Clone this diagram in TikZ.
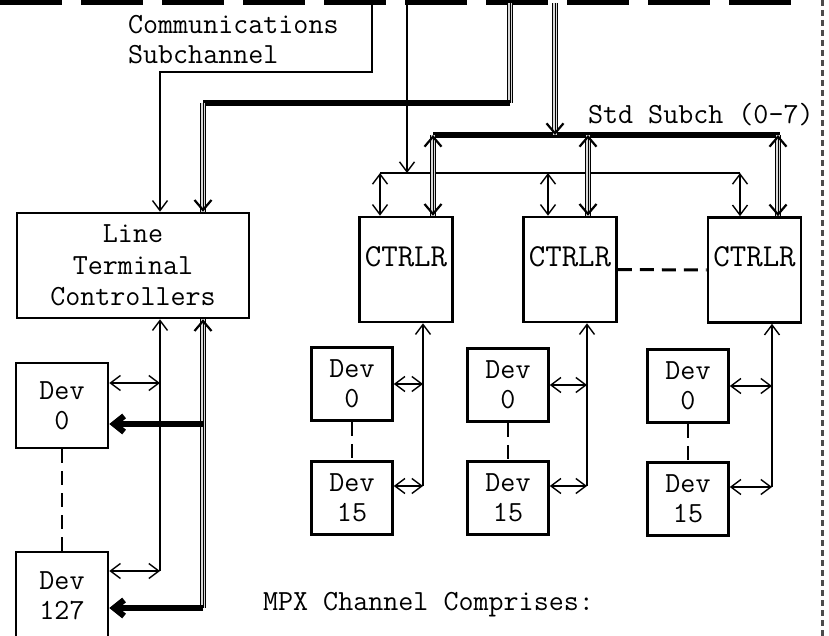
\documentclass[tikz,border=0pt]{standalone}
\usepackage{fontspec}
\usetikzlibrary{arrows.meta}

\begin{document}
\begin{tikzpicture}[x=0.5pt,y=-0.5pt,
  font=\ttfamily\fontsize{14.6}{15}\selectfont,
  >={Straight Barb[length=5pt,width=7.5pt]},
  box/.style={draw,line width=1.3pt,inner sep=0pt,align=center},
  ctrlbox/.style={box,minimum width=46.5pt,minimum height=52.5pt},
  devbox/.style={box,minimum width=40.5pt,minimum height=36.5pt},
  sig/.style={line width=0.7pt},
  vbus/.style={preaction={draw,-,line width=3.4pt,black},
               preaction={draw,-,line width=2pt,gray!30},
               line width=0.5pt,
               >={Straight Barb[length=5pt,width=8.5pt,line width=1.1pt]}},
  hbus/.style={line width=3pt},
  dsh/.style={line width=1pt,dash pattern=on 7pt off 4pt},
  topbus/.style={line width=2.5pt,dash pattern=on 31pt off 9.5pt}]
\useasboundingbox (0,0) rectangle (829,636);
\clip (0,0) rectangle (829,636);

% channel at the top and page edge
\draw[topbus] (0,3) -- (800,3);
\draw[line width=1.5pt,gray!60!black,densely dashed] (822,0) -- (822,636);
\coordinate (tA) at (372,3);
\coordinate (tB) at (407,3);
\coordinate (tC) at (510,3);
\coordinate (tD) at (555,3);

% boxes
\node[box,minimum width=116pt,minimum height=52.5pt,font=\ttfamily\fontsize{14.6}{15.8}\selectfont] (ltc) at (133,265.5) {Line\\Terminal\\Controllers};
\node[ctrlbox] (c1) at (406,269.5) {};
\node[ctrlbox] (c2) at (570,269.5) {};
\node[ctrlbox] (c3) at (754.5,270) {};
\foreach \c in {c1,c2,c3}
  \node[font=\ttfamily\fontsize{16}{18}\selectfont] (\c t) at ([yshift=-20.5pt]\c.north) {CTRLR};

\node[box,minimum width=46pt,minimum height=42.5pt] (dl0) at (62,405.5) {Dev\\0};
\node[box,minimum width=46pt,minimum height=44pt] (dl127) at (62,596) {Dev\\127};
\node[devbox] (d10) at (352,384) {Dev\\0};
\node[devbox] (d115) at (352,498) {Dev\\15};
\node[devbox] (d20) at (508,385) {Dev\\0};
\node[devbox] (d215) at (508,498) {Dev\\15};
\node[devbox] (d30) at (688,386) {Dev\\0};
\node[devbox] (d315) at (688,499) {Dev\\15};

% labels
\node[anchor=west,align=left] (lcomm) at (121,40) {Communications\\Subchannel};
\node[anchor=west] (lstd) at (581,115) {Std Subch (0-7)};
\node[anchor=west] (lmpx) at (256,605) {MPX Channel Comprises:};

% communications subchannel
\coordinate (kA) at (160,72);
\coordinate (kC) at (203,103);
\draw[sig,->] (tA) |- (kA) -- (kA |- ltc.north);
\draw[vbus] (tC) -- (tC |- kC);
\draw[hbus] (tC |- kC) -- (kC);
\draw[vbus,->] (kC) -- (kC |- ltc.north);

% standard subchannels
\coordinate (sL) at (380,173);
\coordinate (s2) at (548,173);
\coordinate (sR) at (740,173);
\draw[sig] (sL) -- (sR);
\draw[sig,->] (tB) -- (tB |- sL);
\draw[sig,<->] (sL) -- (sL |- c1.north);
\draw[sig,<->] (s2) -- (s2 |- c2.north);
\draw[sig,<->] (sR) -- (sR |- c3.north);
\coordinate (wL) at (433,135);
\coordinate (w2) at (588,135);
\coordinate (wR) at (778,135);
\draw[hbus] (wL) -- ([xshift=1pt]wR);
\draw[vbus,->] (tD) -- (tD |- wL);
\draw[vbus,<->] (wL) -- (wL |- c1.north);
\draw[vbus,<->] (w2) -- (w2 |- c2.north);
\draw[vbus,<->] (wR) -- (wR |- c3.north);
\draw[dsh,line width=1.5pt] (c2.east) -- (c3.west);

% devices on the controllers
\coordinate (b1) at (423,486);
\coordinate (b2) at (587,486);
\coordinate (b3) at (772,487);
\draw[sig,->] (b1) -- (b1 |- c1.south);
\draw[sig,->] (b2) -- (b2 |- c2.south);
\draw[sig,->] (b3) -- (b3 |- c3.south);
\draw[sig,<->] (d10.east) -- (d10.east -| b1);
\draw[sig,<->] (d20.east) -- (d20.east -| b2);
\draw[sig,<->] (d30.east) -- (d30.east -| b3);
\draw[sig,<->] (b1 -| d115.east) -- (b1);
\draw[sig,<->] (b2 -| d215.east) -- (b2);
\draw[sig,<->] (b3 -| d315.east) -- (b3);
\draw[dsh] (d10) -- (d115);
\draw[dsh] (d20) -- (d215);
\draw[dsh] (d30) -- (d315);

% devices on the line terminal controllers
\coordinate (lt1) at (160,383);
\coordinate (lt2) at (160,571);
\coordinate (lw1) at (203,424);
\coordinate (lw2) at (203,608);
\draw[sig,->] (lt2) -- (lt2 |- ltc.south);
\draw[sig,<->] (lt1 -| dl0.east) -- (lt1);
\draw[sig,<->] (lt2 -| dl127.east) -- (lt2);
\draw[vbus,->] (lw2) -- (lw2 |- ltc.south);
\draw[hbus,-{Straight Barb[length=5pt,width=8pt]}] (lw1) -- (lw1 -| dl0.east);
\draw[hbus,-{Straight Barb[length=5pt,width=8pt]}] (lw2) -- (lw2 -| dl127.east);
\draw[dsh] (dl0) -- (dl127);
\end{tikzpicture}
\end{document}
